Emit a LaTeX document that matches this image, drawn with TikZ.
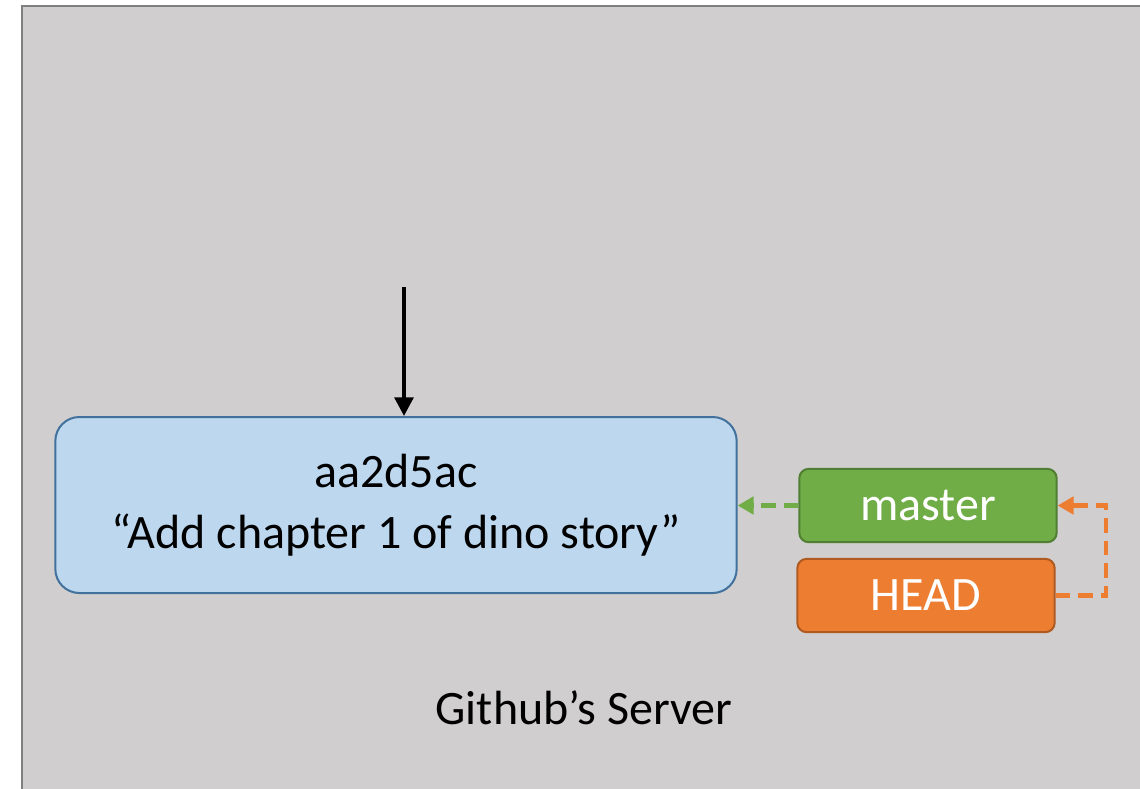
\documentclass[tikz,border=0pt]{standalone}
\usepackage{fontspec}
\setmainfont{Carlito}
\usetikzlibrary{arrows.meta}
\definecolor{bg}{HTML}{D0CECE}
\definecolor{bgline}{HTML}{7F7F7F}
\definecolor{cfill}{HTML}{BDD7EE}
\definecolor{cline}{HTML}{41719C}
\definecolor{gfill}{HTML}{70AD47}
\definecolor{gline}{HTML}{507E32}
\definecolor{ofill}{HTML}{ED7D31}
\definecolor{oline}{HTML}{AE5A21}
\begin{document}
\begin{tikzpicture}[x=0.75pt,y=-0.75pt,
  bigfont/.style={font=\fontsize{36}{43}\selectfont},
  commitbox/.style={draw=cline, fill=cfill, line width=1.5pt, rounded corners=18pt, minimum width=511pt, minimum height=132pt, inner sep=0pt, align=center, font=\fontsize{36}{46}\selectfont},
  refbox/.style={line width=1.5pt, rounded corners=7pt, minimum width=193pt, minimum height=55pt, inner sep=0pt, text=white, bigfont},
  dasharrow/.style={line width=3.2pt, dash pattern=on 11pt off 6pt, -{Triangle[length=12pt,width=13pt]}}
]
\useasboundingbox (0,0) rectangle (1140,789);
\fill[white] (0,0) rectangle (1140,789);
\draw[fill=bg, draw=bgline, line width=2pt] (22,6) rectangle (1150,800);
\node[commitbox] (commit) at (396,505) {aa2d5ac\\“Add chapter 1 of dino story”};
\node[refbox, draw=gline, fill=gfill] (master) at (928,505.5) {master};
\node[refbox, draw=oline, fill=ofill] (head) at (926,595.5) {HEAD};
\coordinate (top) at (404,287);
\draw[line width=3pt, -{Triangle[length=14pt,width=14pt]}] (top) -- (commit.north -| top);
\draw[dasharrow, draw=gfill] (master.west) -- (commit.east |- master.west);
\coordinate (corner) at (1106,0);
\draw[dasharrow, draw=ofill] (head.east) -- (head.east -| corner) -- (master.east -| corner) -- (master.east);
\node[bigfont] (server) at (584,708) {Github’s Server};
\end{tikzpicture}
\end{document}
